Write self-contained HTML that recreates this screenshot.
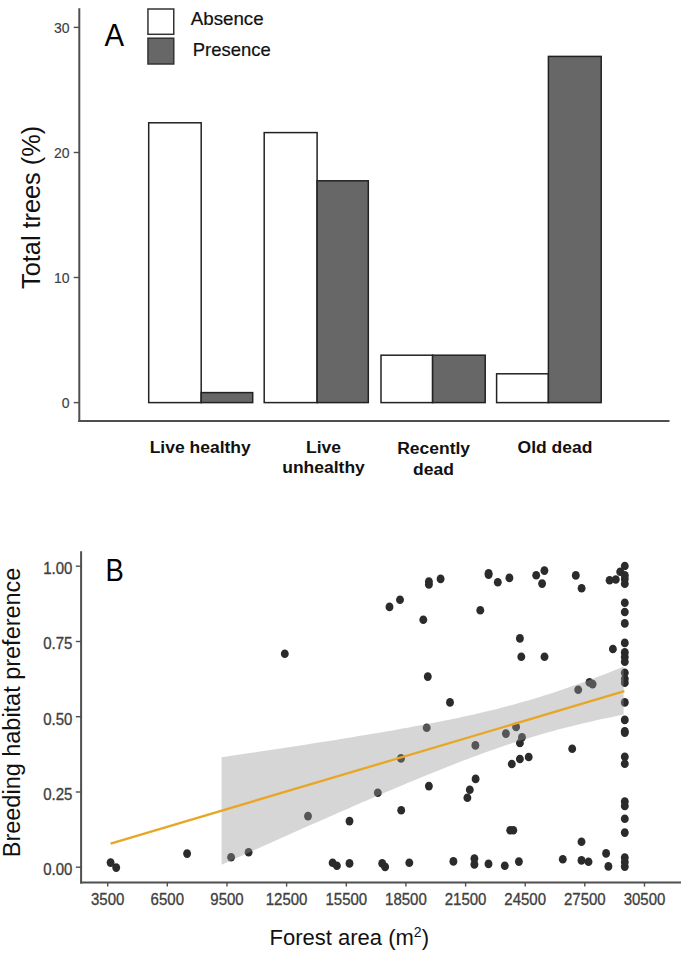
<!DOCTYPE html>
<html><head><meta charset="utf-8"><style>
html,body{margin:0;padding:0;background:#fff;}
svg{display:block;}
text{font-family:"Liberation Sans",sans-serif;}
.tk{font-size:14px;fill:#404040;stroke:#404040;stroke-width:0.15px;}
.tkb{font-size:15px;fill:#404040;stroke:#404040;stroke-width:0.3px;}
.lg{font-size:17.8px;fill:#111;stroke:#111;stroke-width:0.2px;}
.pl{font-size:31.8px;fill:#000;}
.yl{font-size:25px;fill:#111;}
.yl2{font-size:23px;fill:#111;}
.xl2{font-size:22px;fill:#111;}
.xb{font-size:17.5px;font-weight:bold;fill:#111;}
</style></head><body>
<svg width="685" height="954" viewBox="0 0 685 954">
<rect width="685" height="954" fill="#fff"/>
<line x1="79.3" y1="8.3" x2="79.3" y2="422.1" stroke="#4f4f4f" stroke-width="2"/>
<line x1="78.3" y1="421.1" x2="669.5" y2="421.1" stroke="#4f4f4f" stroke-width="2"/>
<line x1="73.7" y1="402.6" x2="79.2" y2="402.6" stroke="#4f4f4f" stroke-width="1.4"/>
<text x="69.6" y="408.0" text-anchor="end" class="tk">0</text>
<line x1="73.7" y1="277.5" x2="79.2" y2="277.5" stroke="#4f4f4f" stroke-width="1.4"/>
<text x="69.6" y="282.9" text-anchor="end" class="tk">10</text>
<line x1="73.7" y1="152.5" x2="79.2" y2="152.5" stroke="#4f4f4f" stroke-width="1.4"/>
<text x="69.6" y="157.9" text-anchor="end" class="tk">20</text>
<line x1="73.7" y1="27.4" x2="79.2" y2="27.4" stroke="#4f4f4f" stroke-width="1.4"/>
<text x="69.6" y="32.8" text-anchor="end" class="tk">30</text>
<rect x="148.7" y="122.8" width="52.5" height="279.8" fill="#fff" stroke="#222" stroke-width="1.5"/>
<rect x="201.2" y="392.6" width="51.5" height="10.0" fill="#676767" stroke="#222" stroke-width="1.5"/>
<rect x="264.2" y="132.6" width="52.9" height="270.0" fill="#fff" stroke="#222" stroke-width="1.5"/>
<rect x="317.1" y="180.8" width="51.2" height="221.8" fill="#676767" stroke="#222" stroke-width="1.5"/>
<rect x="381.0" y="355.2" width="51.6" height="47.4" fill="#fff" stroke="#222" stroke-width="1.5"/>
<rect x="432.6" y="355.2" width="52.6" height="47.4" fill="#676767" stroke="#222" stroke-width="1.5"/>
<rect x="496.6" y="373.8" width="51.8" height="28.8" fill="#fff" stroke="#222" stroke-width="1.5"/>
<rect x="548.4" y="56.4" width="52.8" height="346.2" fill="#676767" stroke="#222" stroke-width="1.5"/>
<rect x="147.95" y="9.0" width="25.8" height="25.3" fill="#fff" stroke="#333" stroke-width="1.5"/>
<rect x="147.95" y="38.2" width="25.8" height="25.8" fill="#676767" stroke="#333" stroke-width="1.5"/>
<text x="190.7" y="24.6" class="lg" textLength="73" lengthAdjust="spacingAndGlyphs">Absence</text>
<text x="192.7" y="56.0" class="lg" textLength="78" lengthAdjust="spacingAndGlyphs">Presence</text>
<text x="104.6" y="45.7" class="pl" textLength="19.6" lengthAdjust="spacingAndGlyphs">A</text>
<text transform="translate(40.2,288.9) rotate(-90)" class="yl" textLength="163" lengthAdjust="spacingAndGlyphs">Total trees (%)</text>
<text transform="translate(200.2,452.79999999999995) scale(1,0.95)" text-anchor="middle" class="xb">Live healthy</text>
<text transform="translate(323.5,452.79999999999995) scale(1,0.95)" text-anchor="middle" class="xb">Live</text>
<text transform="translate(323.5,473.29999999999995) scale(1,0.95)" text-anchor="middle" class="xb">unhealthy</text>
<text transform="translate(433.6,454.0) scale(1,0.95)" text-anchor="middle" class="xb">Recently</text>
<text transform="translate(433.5,474.9) scale(1,0.95)" text-anchor="middle" class="xb">dead</text>
<text transform="translate(555.0,453.0) scale(1,0.95)" text-anchor="middle" class="xb">Old dead</text>
<ellipse cx="110.6" cy="862.6" rx="3.95" ry="4.3" fill="#2b2b2b"/>
<ellipse cx="116.2" cy="867.6" rx="3.95" ry="4.3" fill="#2b2b2b"/>
<ellipse cx="187.1" cy="853.6" rx="3.95" ry="4.3" fill="#2b2b2b"/>
<ellipse cx="231.1" cy="857.2" rx="3.95" ry="4.3" fill="#2b2b2b"/>
<ellipse cx="248.6" cy="852.3" rx="3.95" ry="4.3" fill="#2b2b2b"/>
<ellipse cx="284.8" cy="653.7" rx="3.95" ry="4.3" fill="#2b2b2b"/>
<ellipse cx="308" cy="816.1" rx="3.95" ry="4.3" fill="#2b2b2b"/>
<ellipse cx="332.6" cy="862.8" rx="3.95" ry="4.3" fill="#2b2b2b"/>
<ellipse cx="336.9" cy="865.8" rx="3.95" ry="4.3" fill="#2b2b2b"/>
<ellipse cx="349.5" cy="821.1" rx="3.95" ry="4.3" fill="#2b2b2b"/>
<ellipse cx="349.5" cy="863.4" rx="3.95" ry="4.3" fill="#2b2b2b"/>
<ellipse cx="377.8" cy="792.8" rx="3.95" ry="4.3" fill="#2b2b2b"/>
<ellipse cx="382.2" cy="863.4" rx="3.95" ry="4.3" fill="#2b2b2b"/>
<ellipse cx="385.1" cy="866.9" rx="3.95" ry="4.3" fill="#2b2b2b"/>
<ellipse cx="389.5" cy="606.9" rx="3.95" ry="4.3" fill="#2b2b2b"/>
<ellipse cx="400" cy="599.8" rx="3.95" ry="4.3" fill="#2b2b2b"/>
<ellipse cx="401" cy="758.4" rx="3.95" ry="4.3" fill="#2b2b2b"/>
<ellipse cx="401.2" cy="810.3" rx="3.95" ry="4.3" fill="#2b2b2b"/>
<ellipse cx="409.3" cy="862.8" rx="3.95" ry="4.3" fill="#2b2b2b"/>
<ellipse cx="423.3" cy="619.7" rx="3.95" ry="4.3" fill="#2b2b2b"/>
<ellipse cx="427.8" cy="676.6" rx="3.95" ry="4.3" fill="#2b2b2b"/>
<ellipse cx="426.7" cy="727.8" rx="3.95" ry="4.3" fill="#2b2b2b"/>
<ellipse cx="428.9" cy="786.1" rx="3.95" ry="4.3" fill="#2b2b2b"/>
<ellipse cx="428.9" cy="581.5" rx="3.95" ry="4.3" fill="#2b2b2b"/>
<ellipse cx="428.9" cy="584.5" rx="3.95" ry="4.3" fill="#2b2b2b"/>
<ellipse cx="440.6" cy="578.9" rx="3.95" ry="4.3" fill="#2b2b2b"/>
<ellipse cx="450" cy="702.4" rx="3.95" ry="4.3" fill="#2b2b2b"/>
<ellipse cx="453.4" cy="861.4" rx="3.95" ry="4.3" fill="#2b2b2b"/>
<ellipse cx="467.4" cy="797.7" rx="3.95" ry="4.3" fill="#2b2b2b"/>
<ellipse cx="469.8" cy="789.7" rx="3.95" ry="4.3" fill="#2b2b2b"/>
<ellipse cx="475.6" cy="778.9" rx="3.95" ry="4.3" fill="#2b2b2b"/>
<ellipse cx="474.4" cy="858.5" rx="3.95" ry="4.3" fill="#2b2b2b"/>
<ellipse cx="474.4" cy="864.4" rx="3.95" ry="4.3" fill="#2b2b2b"/>
<ellipse cx="475.4" cy="745.4" rx="3.95" ry="4.3" fill="#2b2b2b"/>
<ellipse cx="480.3" cy="610.2" rx="3.95" ry="4.3" fill="#2b2b2b"/>
<ellipse cx="488.5" cy="863.9" rx="3.95" ry="4.3" fill="#2b2b2b"/>
<ellipse cx="488.6" cy="573.2" rx="3.95" ry="4.3" fill="#2b2b2b"/>
<ellipse cx="488.6" cy="574.8" rx="3.95" ry="4.3" fill="#2b2b2b"/>
<ellipse cx="497.8" cy="582.3" rx="3.95" ry="4.3" fill="#2b2b2b"/>
<ellipse cx="504.8" cy="865.8" rx="3.95" ry="4.3" fill="#2b2b2b"/>
<ellipse cx="505.9" cy="733.6" rx="3.95" ry="4.3" fill="#2b2b2b"/>
<ellipse cx="509.4" cy="577.9" rx="3.95" ry="4.3" fill="#2b2b2b"/>
<ellipse cx="510.2" cy="830.3" rx="3.95" ry="4.3" fill="#2b2b2b"/>
<ellipse cx="513.3" cy="830.3" rx="3.95" ry="4.3" fill="#2b2b2b"/>
<ellipse cx="511.8" cy="764" rx="3.95" ry="4.3" fill="#2b2b2b"/>
<ellipse cx="516.1" cy="726.9" rx="3.95" ry="4.3" fill="#2b2b2b"/>
<ellipse cx="518.9" cy="861.6" rx="3.95" ry="4.3" fill="#2b2b2b"/>
<ellipse cx="519.9" cy="638.4" rx="3.95" ry="4.3" fill="#2b2b2b"/>
<ellipse cx="519.9" cy="743" rx="3.95" ry="4.3" fill="#2b2b2b"/>
<ellipse cx="519.9" cy="759" rx="3.95" ry="4.3" fill="#2b2b2b"/>
<ellipse cx="521.3" cy="656.7" rx="3.95" ry="4.3" fill="#2b2b2b"/>
<ellipse cx="522" cy="737.2" rx="3.95" ry="4.3" fill="#2b2b2b"/>
<ellipse cx="528.7" cy="757" rx="3.95" ry="4.3" fill="#2b2b2b"/>
<ellipse cx="536.2" cy="575.3" rx="3.95" ry="4.3" fill="#2b2b2b"/>
<ellipse cx="542.1" cy="583.6" rx="3.95" ry="4.3" fill="#2b2b2b"/>
<ellipse cx="544.4" cy="570.6" rx="3.95" ry="4.3" fill="#2b2b2b"/>
<ellipse cx="544.5" cy="656.8" rx="3.95" ry="4.3" fill="#2b2b2b"/>
<ellipse cx="562.8" cy="859.2" rx="3.95" ry="4.3" fill="#2b2b2b"/>
<ellipse cx="572.2" cy="748.8" rx="3.95" ry="4.3" fill="#2b2b2b"/>
<ellipse cx="575.8" cy="575.4" rx="3.95" ry="4.3" fill="#2b2b2b"/>
<ellipse cx="578.2" cy="689.7" rx="3.95" ry="4.3" fill="#2b2b2b"/>
<ellipse cx="581.6" cy="588.3" rx="3.95" ry="4.3" fill="#2b2b2b"/>
<ellipse cx="581.5" cy="841.7" rx="3.95" ry="4.3" fill="#2b2b2b"/>
<ellipse cx="581.5" cy="860.4" rx="3.95" ry="4.3" fill="#2b2b2b"/>
<ellipse cx="588.5" cy="861.8" rx="3.95" ry="4.3" fill="#2b2b2b"/>
<ellipse cx="589.5" cy="682.4" rx="3.95" ry="4.3" fill="#2b2b2b"/>
<ellipse cx="592.6" cy="684.1" rx="3.95" ry="4.3" fill="#2b2b2b"/>
<ellipse cx="606.1" cy="853.4" rx="3.95" ry="4.3" fill="#2b2b2b"/>
<ellipse cx="608.4" cy="866.4" rx="3.95" ry="4.3" fill="#2b2b2b"/>
<ellipse cx="609.6" cy="580.2" rx="3.95" ry="4.3" fill="#2b2b2b"/>
<ellipse cx="612.9" cy="649" rx="3.95" ry="4.3" fill="#2b2b2b"/>
<ellipse cx="615.8" cy="579.5" rx="3.95" ry="4.3" fill="#2b2b2b"/>
<ellipse cx="620.2" cy="571.8" rx="3.95" ry="4.3" fill="#2b2b2b"/>
<ellipse cx="624.8" cy="566" rx="3.95" ry="4.3" fill="#2b2b2b"/>
<ellipse cx="624.8" cy="575.4" rx="3.95" ry="4.3" fill="#2b2b2b"/>
<ellipse cx="624.8" cy="579.1" rx="3.95" ry="4.3" fill="#2b2b2b"/>
<ellipse cx="624.8" cy="583.8" rx="3.95" ry="4.3" fill="#2b2b2b"/>
<ellipse cx="624.8" cy="602.7" rx="3.95" ry="4.3" fill="#2b2b2b"/>
<ellipse cx="624.8" cy="612" rx="3.95" ry="4.3" fill="#2b2b2b"/>
<ellipse cx="624.8" cy="623.4" rx="3.95" ry="4.3" fill="#2b2b2b"/>
<ellipse cx="624.8" cy="642.9" rx="3.95" ry="4.3" fill="#2b2b2b"/>
<ellipse cx="624.8" cy="652.4" rx="3.95" ry="4.3" fill="#2b2b2b"/>
<ellipse cx="624.8" cy="657" rx="3.95" ry="4.3" fill="#2b2b2b"/>
<ellipse cx="624.8" cy="661.8" rx="3.95" ry="4.3" fill="#2b2b2b"/>
<ellipse cx="624.8" cy="672.8" rx="3.95" ry="4.3" fill="#2b2b2b"/>
<ellipse cx="624.8" cy="678.7" rx="3.95" ry="4.3" fill="#2b2b2b"/>
<ellipse cx="624.8" cy="682.7" rx="3.95" ry="4.3" fill="#2b2b2b"/>
<ellipse cx="624.8" cy="702.4" rx="3.95" ry="4.3" fill="#2b2b2b"/>
<ellipse cx="624.8" cy="719.9" rx="3.95" ry="4.3" fill="#2b2b2b"/>
<ellipse cx="624.8" cy="731.3" rx="3.95" ry="4.3" fill="#2b2b2b"/>
<ellipse cx="624.8" cy="732.8" rx="3.95" ry="4.3" fill="#2b2b2b"/>
<ellipse cx="624.8" cy="756.7" rx="3.95" ry="4.3" fill="#2b2b2b"/>
<ellipse cx="624.8" cy="763.7" rx="3.95" ry="4.3" fill="#2b2b2b"/>
<ellipse cx="624.8" cy="801.5" rx="3.95" ry="4.3" fill="#2b2b2b"/>
<ellipse cx="624.8" cy="806" rx="3.95" ry="4.3" fill="#2b2b2b"/>
<ellipse cx="624.8" cy="818.8" rx="3.95" ry="4.3" fill="#2b2b2b"/>
<ellipse cx="624.8" cy="832.6" rx="3.95" ry="4.3" fill="#2b2b2b"/>
<ellipse cx="624.8" cy="857.5" rx="3.95" ry="4.3" fill="#2b2b2b"/>
<ellipse cx="624.8" cy="862" rx="3.95" ry="4.3" fill="#2b2b2b"/>
<ellipse cx="624.8" cy="866.6" rx="3.95" ry="4.3" fill="#2b2b2b"/>
<path d="M221.60,757.32 L226.62,756.58 L231.65,755.83 L236.67,755.08 L241.70,754.34 L246.72,753.58 L251.75,752.83 L256.77,752.08 L261.80,751.32 L266.82,750.56 L271.85,749.80 L276.88,749.03 L281.90,748.27 L286.93,747.50 L291.95,746.72 L296.98,745.95 L302.00,745.17 L307.02,744.39 L312.05,743.61 L317.07,742.82 L322.10,742.03 L327.12,741.23 L332.15,740.43 L337.18,739.63 L342.20,738.82 L347.23,738.00 L352.25,737.18 L357.27,736.36 L362.30,735.53 L367.32,734.69 L372.35,733.85 L377.38,732.99 L382.40,732.14 L387.42,731.27 L392.45,730.39 L397.48,729.51 L402.50,728.62 L407.52,727.71 L412.55,726.80 L417.57,725.87 L422.60,724.93 L427.62,723.98 L432.65,723.01 L437.67,722.03 L442.70,721.03 L447.73,720.01 L452.75,718.97 L457.77,717.92 L462.80,716.85 L467.82,715.75 L472.85,714.63 L477.88,713.48 L482.90,712.31 L487.92,711.11 L492.95,709.89 L497.98,708.63 L503.00,707.34 L508.02,706.03 L513.05,704.67 L518.08,703.29 L523.10,701.87 L528.12,700.42 L533.15,698.93 L538.17,697.41 L543.20,695.85 L548.23,694.26 L553.25,692.63 L558.27,690.97 L563.30,689.28 L568.33,687.55 L573.35,685.80 L578.38,684.01 L583.40,682.20 L588.42,680.36 L593.45,678.50 L598.48,676.61 L603.50,674.69 L608.52,672.76 L613.55,670.80 L618.58,668.83 L623.60,666.83 L623.60,714.60 L618.58,715.61 L613.55,716.65 L608.52,717.70 L603.50,718.77 L598.48,719.87 L593.45,720.99 L588.42,722.13 L583.40,723.30 L578.38,724.49 L573.35,725.72 L568.33,726.97 L563.30,728.25 L558.27,729.57 L553.25,730.92 L548.23,732.30 L543.20,733.72 L538.17,735.17 L533.15,736.65 L528.12,738.17 L523.10,739.73 L518.08,741.32 L513.05,742.94 L508.02,744.60 L503.00,746.29 L497.98,748.01 L492.95,749.76 L487.92,751.55 L482.90,753.36 L477.88,755.19 L472.85,757.06 L467.82,758.95 L462.80,760.86 L457.77,762.79 L452.75,764.75 L447.73,766.72 L442.70,768.71 L437.67,770.72 L432.65,772.75 L427.62,774.79 L422.60,776.84 L417.57,778.91 L412.55,780.99 L407.52,783.09 L402.50,785.19 L397.48,787.30 L392.45,789.43 L387.42,791.56 L382.40,793.70 L377.38,795.85 L372.35,798.01 L367.32,800.18 L362.30,802.35 L357.27,804.52 L352.25,806.71 L347.23,808.90 L342.20,811.09 L337.18,813.29 L332.15,815.50 L327.12,817.70 L322.10,819.92 L317.07,822.13 L312.05,824.35 L307.02,826.58 L302.00,828.80 L296.98,831.04 L291.95,833.27 L286.93,835.51 L281.90,837.74 L276.88,839.99 L271.85,842.23 L266.82,844.48 L261.80,846.73 L256.77,848.98 L251.75,851.23 L246.72,853.49 L241.70,855.74 L236.67,858.00 L231.65,860.26 L226.62,862.53 L221.60,864.79 Z" fill="#999999" fill-opacity="0.4"/>
<line x1="110.6" y1="843.60" x2="624.4" y2="691.20" stroke="#e8a626" stroke-width="2.3"/>
<line x1="81.1" y1="551.2" x2="81.1" y2="883.5" stroke="#4f4f4f" stroke-width="2"/>
<line x1="80.1" y1="882.5" x2="681" y2="882.5" stroke="#4f4f4f" stroke-width="2"/>
<line x1="75.8" y1="867.2" x2="81.3" y2="867.2" stroke="#4f4f4f" stroke-width="1.4"/>
<text transform="translate(72.4,875.1) scale(1,1.16)" text-anchor="end" class="tkb">0.00</text>
<line x1="75.8" y1="792.0" x2="81.3" y2="792.0" stroke="#4f4f4f" stroke-width="1.4"/>
<text transform="translate(72.4,799.9) scale(1,1.16)" text-anchor="end" class="tkb">0.25</text>
<line x1="75.8" y1="716.7" x2="81.3" y2="716.7" stroke="#4f4f4f" stroke-width="1.4"/>
<text transform="translate(72.4,724.6) scale(1,1.16)" text-anchor="end" class="tkb">0.50</text>
<line x1="75.8" y1="641.5" x2="81.3" y2="641.5" stroke="#4f4f4f" stroke-width="1.4"/>
<text transform="translate(72.4,649.4) scale(1,1.16)" text-anchor="end" class="tkb">0.75</text>
<line x1="75.8" y1="566.2" x2="81.3" y2="566.2" stroke="#4f4f4f" stroke-width="1.4"/>
<text transform="translate(72.4,574.1) scale(1,1.16)" text-anchor="end" class="tkb">1.00</text>
<line x1="107.7" y1="882.5" x2="107.7" y2="886.6" stroke="#4f4f4f" stroke-width="1.4"/>
<text transform="translate(107.7,904.7) scale(1,1.16)" text-anchor="middle" class="tkb">3500</text>
<line x1="167.3" y1="882.5" x2="167.3" y2="886.6" stroke="#4f4f4f" stroke-width="1.4"/>
<text transform="translate(167.3,904.7) scale(1,1.16)" text-anchor="middle" class="tkb">6500</text>
<line x1="227.0" y1="882.5" x2="227.0" y2="886.6" stroke="#4f4f4f" stroke-width="1.4"/>
<text transform="translate(227.0,904.7) scale(1,1.16)" text-anchor="middle" class="tkb">9500</text>
<line x1="286.6" y1="882.5" x2="286.6" y2="886.6" stroke="#4f4f4f" stroke-width="1.4"/>
<text transform="translate(286.6,904.7) scale(1,1.16)" text-anchor="middle" class="tkb">12500</text>
<line x1="346.3" y1="882.5" x2="346.3" y2="886.6" stroke="#4f4f4f" stroke-width="1.4"/>
<text transform="translate(346.3,904.7) scale(1,1.16)" text-anchor="middle" class="tkb">15500</text>
<line x1="405.9" y1="882.5" x2="405.9" y2="886.6" stroke="#4f4f4f" stroke-width="1.4"/>
<text transform="translate(405.9,904.7) scale(1,1.16)" text-anchor="middle" class="tkb">18500</text>
<line x1="465.6" y1="882.5" x2="465.6" y2="886.6" stroke="#4f4f4f" stroke-width="1.4"/>
<text transform="translate(465.6,904.7) scale(1,1.16)" text-anchor="middle" class="tkb">21500</text>
<line x1="525.2" y1="882.5" x2="525.2" y2="886.6" stroke="#4f4f4f" stroke-width="1.4"/>
<text transform="translate(525.2,904.7) scale(1,1.16)" text-anchor="middle" class="tkb">24500</text>
<line x1="584.8" y1="882.5" x2="584.8" y2="886.6" stroke="#4f4f4f" stroke-width="1.4"/>
<text transform="translate(584.8,904.7) scale(1,1.16)" text-anchor="middle" class="tkb">27500</text>
<line x1="644.5" y1="882.5" x2="644.5" y2="886.6" stroke="#4f4f4f" stroke-width="1.4"/>
<text transform="translate(644.5,904.7) scale(1,1.16)" text-anchor="middle" class="tkb">30500</text>
<text x="105.4" y="580.7" class="pl" textLength="18.3" lengthAdjust="spacingAndGlyphs">B</text>
<text transform="translate(20.1,857.2) rotate(-90)" class="yl2" textLength="289.6" lengthAdjust="spacingAndGlyphs">Breeding habitat preference</text>
<text x="269.6" y="944.8" class="xl2">Forest area (m<tspan dy="-8" font-size="14">2</tspan><tspan dy="8">)</tspan></text>
</svg>
</body></html>
